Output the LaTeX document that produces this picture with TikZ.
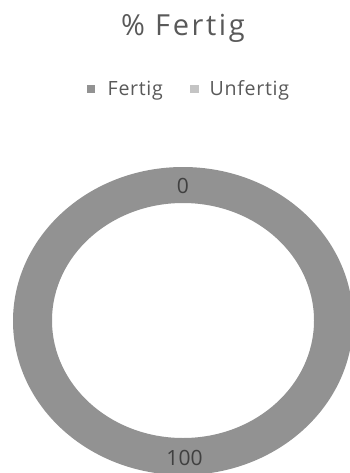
\documentclass[tikz,border=0pt]{standalone}
\usepackage{fontspec}
\setmainfont{Open Sans}
\newfontfamily\titlefont[LetterSpace=9,Ligatures=NoCommon]{Open Sans}
\newfontfamily\legfont[LetterSpace=3.5,Ligatures=NoCommon]{Open Sans}
\newfontfamily\lblfont[Ligatures=NoCommon]{Open Sans}
\definecolor{ringgrey}{HTML}{929292}
\definecolor{unfgrey}{HTML}{C4C4C4}
\definecolor{txtgrey}{HTML}{595959}
\definecolor{lblgrey}{HTML}{404040}
\tikzset{
  titletext/.style={inner sep=0pt, anchor=base, text=txtgrey, font=\titlefont\fontsize{29}{29}\selectfont},
  legtext/.style={inner sep=0pt, anchor=base west, text=txtgrey, font=\legfont\fontsize{19.6}{19.6}\selectfont},
  legmark/.style={inner sep=0pt, minimum size=8.5pt},
  valtext/.style={inner sep=0pt, anchor=base, text=lblgrey, font=\lblfont\fontsize{21}{21}\selectfont}
}
\begin{document}
\begin{tikzpicture}[x=1pt,y=-1pt]
\useasboundingbox (0,0) rectangle (350,473);
\begin{scope}
\clip (0,0) rectangle (350,473);
\fill[ringgrey, even odd rule]
  (183,321) ellipse [x radius=170pt, y radius=154pt]
  (183,320.5) ellipse [x radius=131pt, y radius=117.5pt];
\end{scope}
\node[titletext] (title) at (183,35.7) {\% Fertig};
\node[legmark, fill=ringgrey] (m1) at (91,89) {};
\node[legtext] (l1) at (107.5,95.7) {Fertig};
\node[legmark, fill=unfgrey] (m2) at (194.5,89) {};
\node[legtext] (l2) at (209.5,95.7) {Unfertig};
\node[valtext] (v0) at (183,193) {0};
\node[valtext] (v100) at (184.5,465) {100};
\end{tikzpicture}
\end{document}
